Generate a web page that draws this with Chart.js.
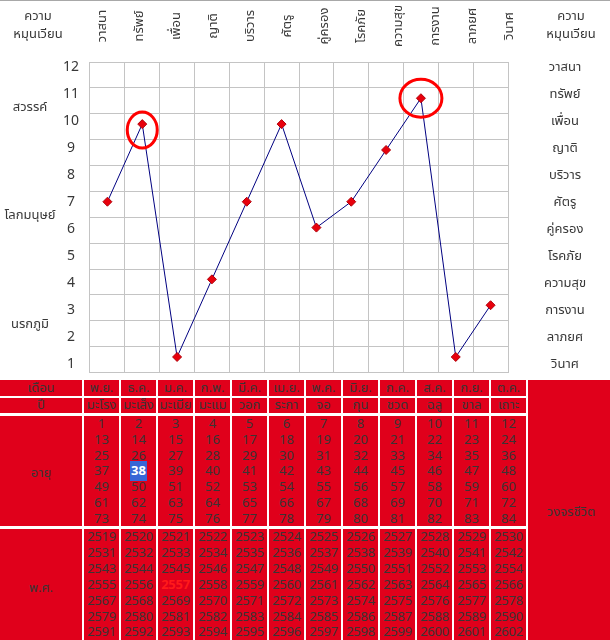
<!DOCTYPE html>
<html>
<head>
<meta charset="utf-8">
<script src="https://cdn.jsdelivr.net/npm/chart.js@4.4.1/dist/chart.umd.min.js"></script>
<style>
  body { margin: 0; background: #fff; font-family: Tahoma, "Noto Sans Thai", "Noto Sans", sans-serif; color: #383838; }
  #wrap { position: relative; width: 610px; height: 640px; overflow: hidden; }
  #topline { position: absolute; left: 0; top: 0; width: 610px; height: 1px; background: #a8a8a8; }
  #chart { position: absolute; left: 0; top: 0; }
  .abs { position: absolute; }
  .hdr { font-size: 13px; text-align: center; line-height: 18px; }
  .rot { font-size: 13px; white-space: nowrap; transform: translate(-50%, -50%) rotate(-90deg); }
  .red { background: #e0001b; font-size: 13px; text-align: center; color: #3a3535; overflow: hidden; }
  .mark-age { background: #3866d6; color: #fff; font-weight: bold; padding: 0 1px; }
  .mark-year { color: #ff1a1a; font-weight: bold; }
</style>
</head>
<body>
<div id="wrap">
  <canvas id="chart" width="610" height="378"></canvas>
  <div id="topline"></div>
</div>
<script>
// หมวดชีวิต (แกน X) และค่าของแต่ละหมวด
const categories = ['วาสนา', 'ทรัพย์', 'เพื่อน', 'ญาติ', 'บริวาร', 'ศัตรู', 'คู่ครอง', 'โรคภัย', 'ความสุข', 'การงาน', 'ลาภยศ', 'วินาศ'];
const values = [7, 10, 1, 4, 7, 10, 6, 7, 9, 11, 1, 3];
const circled = [1, 9];

// ป้ายแกน Y
const yTicks = [1, 2, 3, 4, 5, 6, 7, 8, 9, 10, 11, 12];
const zoneLabels = ['สวรรค์', 'โลกมนุษย์', 'นรกภูมิ'];
const zoneAt = [10.5, 6.5, 2.5];

// ตารางด้านล่าง
const months = ['พ.ย.', 'ธ.ค.', 'ม.ค.', 'ก.พ.', 'มี.ค.', 'เม.ย.', 'พ.ค.', 'มิ.ย.', 'ก.ค.', 'ส.ค.', 'ก.ย.', 'ต.ค.'];
const animals = ['มะโรง', 'มะเส็ง', 'มะเมีย', 'มะแม', 'วอก', 'ระกา', 'จอ', 'กุน', 'ชวด', 'ฉลู', 'ขาล', 'เถาะ'];
const ageRowStart = [1, 13, 25, 37, 49, 61, 73];
const yearRowStart = [2519, 2531, 2543, 2555, 2567, 2579, 2591];
const markedAge = 38;
const markedYear = 2557;

const FONT = 'Tahoma, "Noto Sans Thai", "Noto Sans", sans-serif';
const COL_LEFT = 84, COL_PITCH = 37, COL_W = 35;
const ringStyle = [{ rx: 15, ry: 18, dy: 6 }, { rx: 21, ry: 19, dy: 0 }];

// ------------------------------------------------------------------
// Header (rotated labels, aligned with table columns)
// ------------------------------------------------------------------
const wrap = document.getElementById('wrap');
function addDiv(cls, css, html) {
  const d = document.createElement('div');
  d.className = cls;
  d.style.cssText = css;
  d.innerHTML = html;
  wrap.appendChild(d);
  return d;
}
addDiv('abs hdr', 'left:0;width:76px;top:7px;', 'ความ<br>หมุนเวียน');
addDiv('abs hdr', 'left:532px;width:78px;top:7px;', 'ความ<br>หมุนเวียน');
categories.forEach((c, i) => {
  addDiv('abs rot', `left:${COL_LEFT + COL_PITCH * i + COL_W / 2}px;top:26px;`, c);
});

// ------------------------------------------------------------------
// Chart
// ------------------------------------------------------------------
const sidePlugin = {
  id: 'side',
  afterDatasetsDraw(chart) {
    const { ctx } = chart;
    const yl = chart.scales.yLab;
    ctx.save();
    ctx.fillStyle = '#383838';
    ctx.font = '13px ' + FONT;
    ctx.textAlign = 'center';
    ctx.textBaseline = 'middle';
    yTicks.forEach(v => ctx.fillText(categories[12 - v], 565, yl.getPixelForValue(v)));
    zoneLabels.forEach((t, i) => ctx.fillText(t, 30, yl.getPixelForValue(zoneAt[i])));

    const pts = chart.getDatasetMeta(0).data;
    ctx.strokeStyle = '#ff0000';
    ctx.lineWidth = 3;
    circled.forEach((idx, i) => {
      const p = pts[idx], s = ringStyle[i];
      ctx.beginPath();
      ctx.ellipse(p.x, p.y + s.dy, s.rx, s.ry, 0, 0, Math.PI * 2);
      ctx.stroke();
    });
    ctx.restore();
  }
};

new Chart(document.getElementById('chart'), {
  type: 'line',
  data: {
    labels: categories,
    datasets: [{
      data: values,
      borderColor: '#000080',
      borderWidth: 1,
      tension: 0,
      pointStyle: 'rectRot',
      pointRadius: 4.5,
      pointBackgroundColor: '#e8000c',
      pointBorderColor: '#b0000a',
      pointBorderWidth: 1,
    }],
  },
  options: {
    responsive: false,
    animation: false,
    events: [],
    layout: { padding: { top: 62, bottom: 5, left: 0, right: 102 } },
    plugins: { legend: { display: false }, tooltip: { enabled: false } },
    scales: {
      x: {
        type: 'category',
        offset: true,
        afterFit: s => { s.height = 0; },
        grid: { offset: true, color: '#c4c4c4', drawTicks: false },
        border: { display: false },
        ticks: { display: false },
      },
      y: {
        type: 'linear',
        position: 'left',
        min: 0.4,
        max: 12.4,
        afterBuildTicks: s => { s.ticks = Array.from({ length: 13 }, (_, k) => ({ value: 0.4 + k })); },
        afterFit: s => { s.width = 0; s.paddingTop = 0; s.paddingBottom = 0; },
        grid: { color: '#c4c4c4', drawTicks: false },
        border: { display: false },
        ticks: { display: false },
      },
      yLab: {
        type: 'linear',
        position: 'left',
        min: 0.742,
        max: 12.22,
        afterBuildTicks: s => { s.ticks = yTicks.map(v => ({ value: v })); },
        afterFit: s => { s.width = 90; s.paddingTop = 0; s.paddingBottom = 0; },
        grid: { display: false, drawTicks: false },
        border: { display: false },
        ticks: { color: '#383838', font: { size: 14, family: FONT }, crossAlign: 'center', padding: 11, autoSkip: false },
      },
    },
  },
  plugins: [sidePlugin],
});

// ------------------------------------------------------------------
// Table
// ------------------------------------------------------------------
function redCell(x, y, w, h, html, extra) {
  return addDiv('abs red', `left:${x}px;top:${y}px;width:${w}px;height:${h}px;${extra || ''}`, html);
}
function colX(i) { return COL_LEFT + COL_PITCH * i; }

redCell(0, 380, 82, 16, 'เดือน', 'line-height:16px;');
redCell(0, 398, 82, 15, 'ปี', 'line-height:15px;');
redCell(0, 416, 82, 110, 'อายุ', 'line-height:114px;');
redCell(0, 529, 82, 111, 'พ.ศ.', 'line-height:118px;');
redCell(528, 380, 82, 260, 'วงจรชีวิต', 'line-height:16px;padding-top:124px;box-sizing:border-box;padding-left:4px;');

months.forEach((m, i) => {
  redCell(colX(i), 380, COL_W, 16, m, 'line-height:16px;');
  redCell(colX(i), 398, COL_W, 15, animals[i], 'line-height:15px;');
  const ages = ageRowStart.map(s => {
    const a = s + i;
    return a === markedAge ? `<span class="mark-age">${a}</span>` : a;
  });
  redCell(colX(i), 416, COL_W, 110, ages.join('<br>'), 'line-height:15.8px;padding-top:1px;box-sizing:border-box;');
  const years = yearRowStart.map(s => {
    const y = s + i;
    return y === markedYear ? `<span class="mark-year">${y}</span>` : y;
  });
  redCell(colX(i), 529, COL_W, 111, years.join('<br>'), 'line-height:15.9px;padding-top:1px;box-sizing:border-box;letter-spacing:-0.3px;');
});
</script>
</body>
</html>
